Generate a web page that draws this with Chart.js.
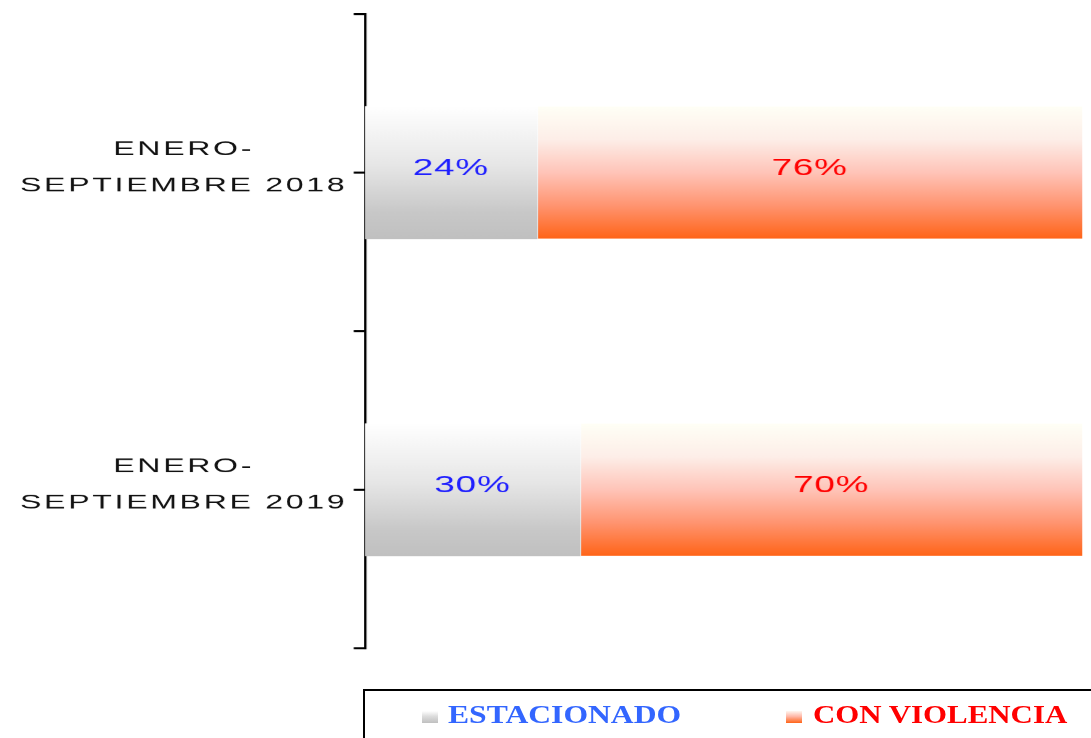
<!DOCTYPE html>
<html>
<head>
<meta charset="utf-8">
<script src="https://cdn.jsdelivr.net/npm/chart.js@4.4.1/dist/chart.umd.min.js"></script>
<style>
  html, body { margin:0; padding:0; background:#fff; width:1091px; height:738px; overflow:hidden; }
  #wrap { position:absolute; left:0; top:0; width:682px; height:738px; transform:scaleX(1.6); transform-origin:0 0; }
  #legend { position:absolute; left:363px; top:689px; width:760px; height:70px; border:2px solid #000; box-sizing:border-box; }
  .ico { position:absolute; width:16px; height:12px; }
  .lbl { position:absolute; font-family:"Liberation Serif","Times New Roman",serif; font-weight:bold; font-size:25px; line-height:25px; white-space:nowrap; transform-origin:0 0; }
</style>
</head>
<body>
<div id="wrap"><canvas id="c"></canvas></div>
<div id="legend"></div>
<script>
const categories = [["ENERO-", "SEPTIEMBRE 2018"], ["ENERO-", "SEPTIEMBRE 2019"]];
const seriesNames = ["ESTACIONADO", "CON VIOLENCIA"];
const estacionado = [24, 30];
const conViolencia = [76, 70];
const labelColors = ["#1f1fff", "#ff0000"];
const legendColors = ["#3366ff", "#ff0000"];

const grayStops = [[0, "#ffffff"], [0.45, "#e6e6e6"], [0.8, "#c8c8c8"], [1, "#c0c0c0"]];
const orangeStops = [[0, "#fffff6"], [0.25, "#fdeee8"], [0.5, "#ffc4b8"], [0.75, "#ff9470"], [1, "#ff6418"]];
const BAR_H = 132;

function grad(stops) {
  return (c) => {
    const ch = c.chart;
    const ys = ch.scales && ch.scales.y;
    if (!ch.chartArea || !ys || c.dataIndex === undefined) return stops[stops.length - 1][1];
    const yc = ys.getPixelForValue(c.dataIndex);
    const g = ch.ctx.createLinearGradient(0, yc - BAR_H / 2, 0, yc + BAR_H / 2);
    stops.forEach(s => g.addColorStop(s[0], s[1]));
    return g;
  };
}

const spacingPlugin = {
  id: 'spacing',
  beforeLayout(chart) { chart.ctx.letterSpacing = '1.7px'; },
  beforeDraw(chart) { chart.ctx.letterSpacing = '1.7px'; }
};

const extrasPlugin = {
  id: 'extras',
  afterDatasetsDraw(chart) {
    const ctx = chart.ctx;
    ctx.save();
    ctx.letterSpacing = '0.5px';
    ctx.font = '23px "Liberation Sans", Arial, sans-serif';
    ctx.textAlign = 'center';
    ctx.textBaseline = 'middle';
    chart.data.datasets.forEach((ds, di) => {
      const meta = chart.getDatasetMeta(di);
      meta.data.forEach((el, i) => {
        ctx.fillStyle = labelColors[di];
        ctx.fillText(ds.data[i] + '%', (el.x + el.base) / 2, el.y - 4);
      });
    });
    // center ticks on the category axis
    const ys = chart.scales.y;
    ctx.strokeStyle = '#000';
    ctx.lineWidth = 2;
    categories.forEach((_, i) => {
      const y = ys.getPixelForValue(i);
      ctx.beginPath();
      ctx.moveTo(ys.right - 7, y);
      ctx.lineTo(ys.right, y);
      ctx.stroke();
    });
    ctx.restore();
  }
};

new Chart(document.getElementById('c'), {
  type: 'bar',
  data: {
    labels: categories,
    datasets: [
      { label: seriesNames[0], data: estacionado, backgroundColor: grad(grayStops), borderWidth: 0 },
      { label: seriesNames[1], data: conViolencia, backgroundColor: grad(orangeStops),
        borderColor: '#ffffff', borderWidth: { top: 0, right: 0, bottom: 0, left: 1 }, borderSkipped: false }
    ]
  },
  options: {
    indexAxis: 'y',
    responsive: true,
    maintainAspectRatio: false,
    devicePixelRatio: 1.6,
    animation: false,
    events: [],
    barThickness: BAR_H,
    layout: { padding: { top: 14, right: 5.75, bottom: 90, left: 0 } },
    plugins: { legend: { display: false }, tooltip: { enabled: false } },
    scales: {
      x: { stacked: true, min: 0, max: 100, display: false },
      y: {
        stacked: true,
        afterFit(scale) { scale.width = 228; scale.paddingTop = 0; scale.paddingBottom = 0; },
        grid: { drawOnChartArea: false, drawTicks: true, tickLength: 7, color: '#000', lineWidth: 2, offset: true },
        border: { display: true, color: '#000', width: 1.5 },
        ticks: {
          crossAlign: 'center',
          padding: 4,
          labelOffset: -5,
          color: '#111',
          font: { family: '"Liberation Sans", Arial, sans-serif', size: 20, lineHeight: 1.83 }
        }
      }
    }
  },
  plugins: [spacingPlugin, extrasPlugin]
});

// HTML legend
const legend = document.getElementById('legend');
const items = [
  { icon: 'linear-gradient(#ffffff, #dcdcdc 45%, #c0c0c0)', iconX: 422, textX: 448, sx: 1.265 },
  { icon: 'linear-gradient(#fff6f0, #ffb8a8 45%, #ff6418)', iconX: 786, textX: 813, sx: 1.235 }
];
items.forEach((it, i) => {
  const ic = document.createElement('div');
  ic.className = 'ico';
  ic.style.left = (it.iconX - 365) + 'px';
  ic.style.top = (711 - 691) + 'px';
  ic.style.background = it.icon;
  legend.appendChild(ic);
  const t = document.createElement('span');
  t.className = 'lbl';
  t.style.left = (it.textX - 365) + 'px';
  t.style.top = (702 - 691) + 'px';
  t.style.transform = 'scaleX(' + it.sx + ')';
  t.style.color = legendColors[i];
  t.textContent = seriesNames[i];
  legend.appendChild(t);
});
</script>
</body>
</html>
